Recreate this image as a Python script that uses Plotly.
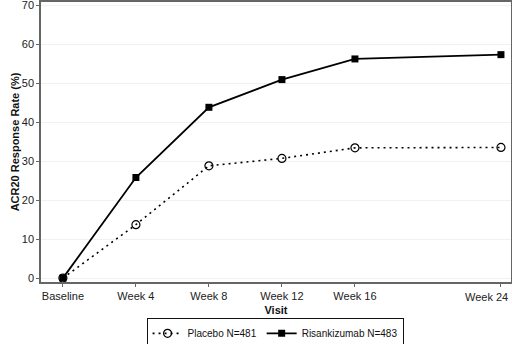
import plotly.graph_objects as go

visits = ["Baseline", "Week 4", "Week 8", "Week 12", "Week 16", "Week 24"]
weeks = [0, 4, 8, 12, 16, 24]
placebo = [0, 13.7, 28.8, 30.7, 33.4, 33.5]
risankizumab = [0, 25.8, 43.8, 50.9, 56.2, 57.3]
y_ticks = [0, 10, 20, 30, 40, 50, 60, 70]

FONT = "Liberation Sans, Arial, sans-serif"

# last label sits flush against the right edge in the reference -> drawn as annotation
tick_text = visits[:-1] + [""]

fig = go.Figure()
fig.add_trace(go.Scatter(
    x=weeks, y=placebo, name="Placebo N=481", mode="lines+markers",
    line=dict(color="black", width=1.6, dash="2px,4px"),
    marker=dict(symbol="circle-open", size=8, color="black", line=dict(width=1.2)),
))
fig.add_trace(go.Scatter(
    x=weeks, y=risankizumab, name="Risankizumab N=483", mode="lines+markers",
    line=dict(color="black", width=1.8),
    marker=dict(symbol="square", size=7, color="black"),
))

fig.add_annotation(
    text=visits[-1], x=1, xref="paper", xanchor="right", xshift=-1,
    y=0, yref="paper", yanchor="top", yshift=-7, showarrow=False,
    font=dict(family=FONT, size=11, color="#222"),
)

fig.update_layout(
    width=512, height=344,
    margin=dict(l=41, r=1, t=2, b=62, autoexpand=False),
    paper_bgcolor="white", plot_bgcolor="white",
    font=dict(family=FONT, size=11, color="#222"),
    showlegend=True,
    legend=dict(
        orientation="h", x=0.498, xanchor="center", y=-0.128, yanchor="top",
        bordercolor="#111", borderwidth=1, font=dict(size=10, color="#111"),
        itemwidth=30, tracegroupgap=0, traceorder="normal",
    ),
)
fig.update_xaxes(
    range=[-1.2, 24.55], tickvals=weeks, ticktext=tick_text,
    showgrid=False, zeroline=False,
    showline=True, linecolor="#666", linewidth=1.5, mirror=True,
    ticks="outside", ticklen=3, tickcolor="#666",
    tickfont=dict(size=11, color="#222"), ticklabeloverflow="allow",
    title=dict(text="<b>Visit</b>", font=dict(size=11, color="#111"), standoff=5),
)
fig.update_yaxes(
    range=[-1.0, 70.8], tickvals=y_ticks,
    showgrid=True, gridcolor="#f1f1f1", gridwidth=1, zeroline=False,
    showline=True, linecolor="#666", linewidth=1.5, mirror=True,
    ticks="outside", ticklen=3, tickcolor="#666",
    tickfont=dict(size=11, color="#222"), ticklabeloverflow="allow",
    title=dict(text="<b>ACR20 Response Rate (%)</b>", font=dict(size=11, color="#111"), standoff=0),
)

fig.write_html("out.html")
